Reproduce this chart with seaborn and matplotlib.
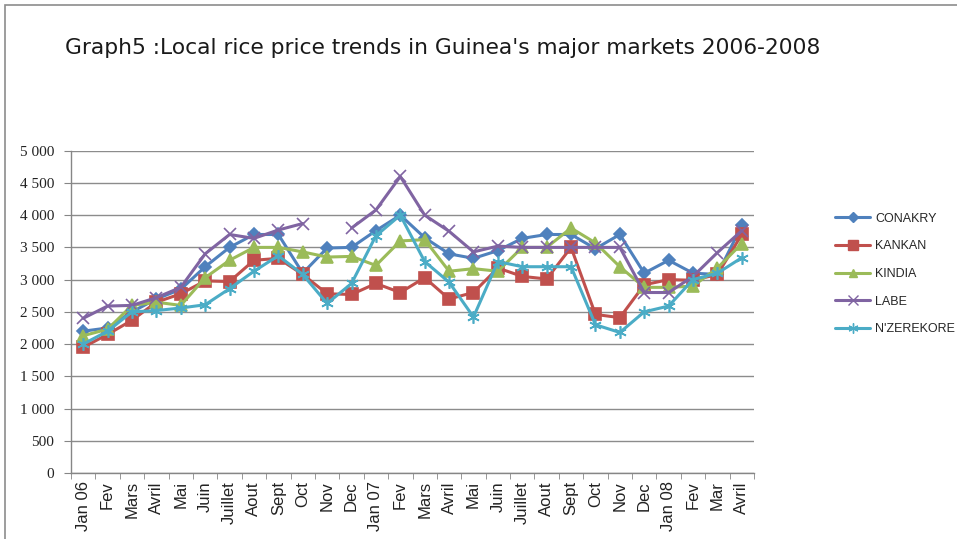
import numpy as np
import pandas as pd
import matplotlib
matplotlib.use("Agg")
import matplotlib.pyplot as plt
import matplotlib.ticker as mticker
from matplotlib.patches import Rectangle
from matplotlib.lines import Line2D
import seaborn as sns

months = ["Jan 06", "Fev", "Mars", "Avril", "Mai", "Juin", "Juillet", "Aout", "Sept", "Oct",
          "Nov", "Dec", "Jan 07", "Fev", "Mars", "Avril", "Mai", "Juin", "Juillet", "Aout",
          "Sept", "Oct", "Nov", "Dec", "Jan 08", "Fev", "Mar", "Avril"]

conakry = [2200, 2250, 2500, 2700, 2850, 3200, 3500, 3700, 3700, 3100,
           3490, 3500, 3760, 4000, 3650, 3400, 3330, 3450, 3640, 3700,
           3700, 3480, 3700, 3100, 3300, 3100, 3080, 3840]
kankan = [1950, 2150, 2370, 2650, 2780, 2980, 2970, 3300, 3330, 3080,
          2780, 2770, 2940, 2800, 3030, 2700, 2800, 3180, 3050, 3010,
          3500, 2460, 2410, 2920, 3000, 2990, 3080, 3700]
kindia = [2130, 2230, 2600, 2650, 2600, 3030, 3300, 3500, 3500, 3430,
          3350, 3360, 3220, 3600, 3620, 3130, 3170, 3130, 3500, 3500,
          3800, 3570, 3200, 2880, 2880, 2900, 3180, 3560]
labe = [2400, 2590, 2600, 2720, 2880, 3400, 3700, 3640, 3770, 3870,
        np.nan, 3800, 4080, 4600, 4000, 3750, 3430, 3520, 3500, 3500,
        3500, 3500, 3500, 2800, 2800, 3050, 3420, 3760]
nzerekore = [2000, 2200, 2500, 2520, 2560, 2610, 2860, 3130, 3370, 3080,
             2630, 2940, 3680, 4000, 3280, 2960, 2420, 3280, 3200, 3200,
             3200, 2300, 2180, 2500, 2590, 3000, 3100, 3340]

series = {"CONAKRY": conakry, "KANKAN": kankan, "KINDIA": kindia,
          "LABE": labe, "N'ZEREKORE": nzerekore}
colors = {"CONAKRY": "#4F81BD", "KANKAN": "#C0504D", "KINDIA": "#9BBB59",
          "LABE": "#8064A2", "N'ZEREKORE": "#4BACC6"}
markers = {"CONAKRY": "D", "KANKAN": "s", "KINDIA": "^", "LABE": "x",
           "N'ZEREKORE": (6, 2, 0)}
msizes = {"CONAKRY": 6, "KANKAN": 8.5, "KINDIA": 8, "LABE": 9, "N'ZEREKORE": 9}

sns.set_style("white")
fig = plt.figure(figsize=(9.57, 5.39), dpi=100)
ax = fig.add_axes([71 / 957, 1 - 473 / 539, (754 - 71) / 957, (473 - 150.7) / 539])

x = np.arange(len(months))
for name, vals in series.items():
    v = pd.Series(vals, dtype=float)
    seg = v.isna().cumsum()
    df = pd.DataFrame({"x": x, "price": v, "seg": seg}).dropna()
    sns.lineplot(data=df, x="x", y="price", units="seg", estimator=None, ax=ax,
                 color=colors[name], marker=markers[name], markersize=msizes[name],
                 markeredgecolor=colors[name], markeredgewidth=1.2,
                 linewidth=2.2, label=name, legend=False)

ax.set_xlim(-0.5, len(months) - 0.5)
ax.set_ylim(0, 5000)
ax.yaxis.set_major_locator(mticker.MultipleLocator(500))
ax.yaxis.set_major_formatter(mticker.FuncFormatter(lambda v, p: f"{int(v):,}".replace(",", " ")))
ax.set_xticks(x)
ax.set_xticklabels(months, rotation=90, fontsize=12, family="Liberation Sans", color="#222222")
ax.xaxis.set_minor_locator(mticker.FixedLocator(np.arange(-0.5, len(months), 1)))
ax.tick_params(axis="x", which="major", length=0, pad=6)
ax.tick_params(axis="x", which="minor", length=4, color="#868686", direction="out", bottom=True)
ax.tick_params(axis="y", length=5, color="#868686", direction="out", left=True, labelsize=11, pad=7)
for lab in ax.get_yticklabels():
    lab.set_family("Liberation Serif")
    lab.set_color("#222222")
ax.grid(axis="y", color="#8c8c8c", linewidth=1)
ax.set_axisbelow(True)
for s in ["top", "right"]:
    ax.spines[s].set_visible(False)
for s in ["left", "bottom"]:
    ax.spines[s].set_color("#868686")
    ax.spines[s].set_linewidth(1)
ax.set_xlabel("")
ax.set_ylabel("")

handles = []
for name in series:
    handles.append(Line2D([], [], color=colors[name], marker=markers[name],
                          markersize=msizes[name] * 0.8, markeredgecolor=colors[name],
                          linewidth=2.2, label=name))
fig.legend(handles=handles, loc="center left", bbox_to_anchor=(835 / 957, 1 - 274 / 539),
           frameon=False, handlelength=2.8, handletextpad=0.4, labelspacing=1.25,
           borderpad=0, borderaxespad=0,
           prop={"family": "Liberation Sans", "size": 9})

fig.text(65 / 957, 1 - 48 / 539, "Graph5 :Local rice price trends in Guinea's major markets 2006-2008",
         fontsize=15.7, family="DejaVu Sans", va="center", ha="left", color="#1a1a1a")

fig.patches.append(Rectangle((5 / 957, -0.1), 1.2, 1 - 5 / 539 + 0.1, transform=fig.transFigure,
                             fill=False, edgecolor="#8c8c8c", linewidth=1.2))

fig.savefig("out.png", dpi=100)
